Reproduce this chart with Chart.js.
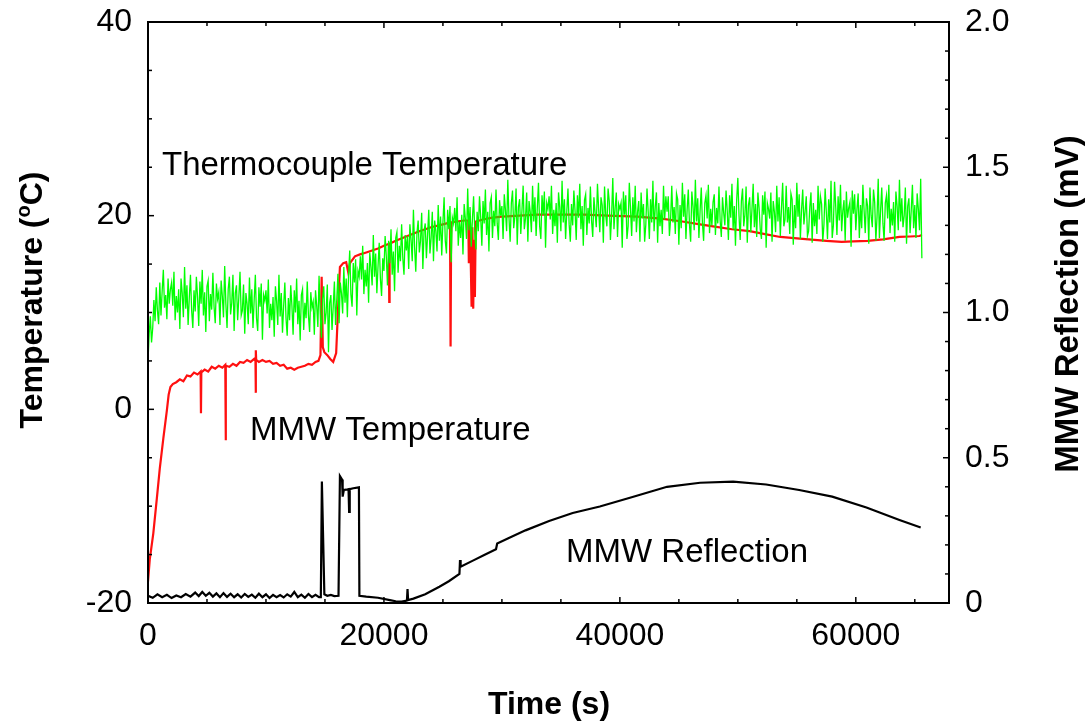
<!DOCTYPE html>
<html>
<head>
<meta charset="utf-8">
<script src="https://cdn.jsdelivr.net/npm/chart.js@4.4.1/dist/chart.umd.min.js"></script>
<style>
  html, body { margin: 0; padding: 0; background: #fff; }
  #wrap { width: 1091px; height: 723px; }
</style>
</head>
<body>
<div id="wrap"><canvas id="chart" width="1091" height="723"></canvas></div>
<script>
// Thermocouple record, one sample every TC_STEP seconds (°C), 20 samples per row
const TC_STEP = 100;
const tcTemp = [
  5.0, 7.8, 9.6, 6.9, 8.4, 11.3, 9.1, 12.6, 10.2, 8.8, 13.1, 9.7, 12.2, 14.4, 10.5, 11.8, 9.3, 13.5, 10.9, 12.4,
  13.1, 10.7, 14.2, 9.2, 11.7, 10.0, 12.4, 8.3, 13.5, 12.0, 9.5, 14.7, 10.4, 12.8, 8.7, 11.5, 13.9, 10.2, 8.4, 12.3,
  10.1, 13.7, 11.6, 8.6, 13.2, 10.9, 14.4, 9.7, 12.1, 8.0, 12.7, 13.3, 9.1, 11.9, 10.3, 14.1, 10.6, 8.9, 13.0, 11.4,
  12.1, 8.7, 13.3, 11.7, 9.5, 14.8, 10.9, 8.4, 12.4, 13.7, 9.8, 11.0, 13.9, 8.1, 12.0, 12.8, 9.2, 11.6, 14.2, 9.7,
  10.2, 12.9, 7.8, 12.0, 10.9, 8.8, 13.6, 9.9, 12.4, 8.4, 11.3, 13.9, 9.4, 8.1, 12.6, 10.6, 13.0, 7.2, 11.8, 11.2,
  12.3, 9.9, 13.4, 8.4, 10.9, 9.2, 11.6, 7.5, 12.7, 11.2, 8.7, 13.9, 9.6, 12.0, 7.9, 10.7, 13.1, 9.4, 7.6, 11.5,
  9.2, 12.8, 10.7, 7.7, 12.3, 10.0, 13.5, 8.8, 11.2, 7.1, 11.8, 12.4, 8.2, 11.0, 9.4, 13.2, 9.7, 8.0, 12.1, 10.5,
  11.1, 7.7, 12.3, 10.7, 8.5, 13.8, 9.9, 7.4, 11.4, 12.7, 8.8, 10.0, 12.9, 5.9, 11.0, 11.8, 8.2, 10.6, 13.2, 8.7,
  11.3, 14.0, 8.9, 13.1, 12.0, 9.9, 14.7, 11.0, 13.5, 9.5, 13.8, 16.4, 11.9, 10.6, 15.1, 13.1, 15.5, 9.7, 14.3, 13.7,
  15.8, 13.4, 16.9, 11.9, 14.4, 12.7, 15.1, 11.0, 16.2, 14.7, 12.8, 18.0, 13.7, 16.1, 12.0, 14.8, 17.2, 13.5, 11.7, 15.6,
  14.3, 17.9, 15.8, 12.8, 17.4, 15.1, 18.6, 13.9, 16.3, 12.2, 17.7, 18.3, 14.1, 16.9, 15.3, 19.1, 15.6, 13.9, 18.0, 16.4,
  17.9, 14.5, 19.1, 17.5, 15.3, 20.6, 16.7, 14.2, 18.2, 19.5, 16.2, 17.4, 20.3, 14.5, 18.4, 19.2, 15.6, 18.0, 20.6, 16.1,
  17.7, 20.4, 15.3, 19.5, 18.4, 16.3, 21.1, 17.4, 19.9, 15.9, 19.3, 21.9, 17.4, 16.1, 20.6, 18.6, 21.0, 15.2, 19.8, 19.2,
  20.8, 18.4, 21.9, 16.9, 19.4, 17.7, 20.1, 16.0, 21.2, 19.7, 17.6, 22.8, 18.5, 20.9, 16.8, 19.6, 22.0, 18.3, 16.5, 20.4,
  18.4, 22.0, 19.9, 16.9, 21.5, 19.2, 22.7, 18.0, 20.4, 16.3, 21.3, 21.9, 17.7, 20.5, 18.9, 22.7, 19.2, 17.5, 21.6, 20.0,
  21.0, 17.6, 22.2, 20.6, 18.4, 23.7, 19.8, 17.3, 21.3, 22.6, 18.7, 19.9, 22.8, 17.0, 20.9, 21.7, 18.1, 20.5, 23.1, 18.6,
  19.7, 22.4, 17.3, 21.5, 20.4, 18.3, 23.1, 19.4, 21.9, 17.9, 20.8, 23.4, 18.9, 17.6, 22.1, 20.1, 22.5, 16.7, 21.3, 20.7,
  22.0, 19.6, 23.1, 18.1, 20.6, 18.9, 21.3, 17.2, 22.4, 20.9, 18.4, 23.6, 19.3, 21.7, 17.6, 20.4, 22.8, 19.1, 17.3, 21.2,
  19.0, 22.6, 20.5, 17.5, 22.1, 19.8, 23.3, 18.6, 21.0, 16.9, 21.6, 22.2, 18.0, 20.8, 19.2, 23.0, 19.5, 17.8, 21.9, 20.3,
  18.8, 23.3, 20.7, 18.3, 21.9, 21.1, 17.2, 23.0, 20.1, 18.9, 22.8, 21.5, 17.5, 20.0, 23.9, 18.6, 20.8, 22.4, 17.8, 21.2,
  20.7, 21.3, 16.7, 22.5, 20.1, 22.1, 17.6, 18.9, 23.4, 20.8, 17.9, 21.9, 19.4, 23.1, 18.3, 20.4, 21.5, 17.3, 22.4, 19.7,
  21.2, 17.3, 19.1, 22.8, 20.4, 17.6, 21.7, 19.3, 23.6, 18.4, 20.9, 22.4, 17.2, 21.3, 18.9, 20.6, 18.1, 23.1, 19.6, 22.0,
  20.4, 22.0, 17.9, 19.6, 23.1, 19.3, 20.9, 18.1, 22.3, 21.7, 17.0, 21.1, 18.7, 23.4, 19.9, 22.2, 17.6, 20.6, 22.7, 19.1,
  17.3, 22.5, 21.0, 18.5, 23.7, 19.4, 21.8, 17.7, 20.5, 22.9, 19.2, 17.4, 21.3, 22.1, 19.7, 23.2, 18.2, 20.7, 19.0, 21.4,
  22.2, 18.0, 20.8, 19.2, 23.0, 19.5, 17.8, 21.9, 20.3, 19.0, 22.6, 20.5, 17.5, 22.1, 19.8, 23.3, 18.6, 21.0, 16.9, 21.6,
  23.9, 20.0, 17.5, 21.5, 22.8, 18.9, 20.1, 23.0, 17.2, 21.1, 21.9, 18.3, 20.7, 23.3, 18.8, 21.2, 17.8, 22.4, 20.8, 18.6,
  17.6, 22.1, 20.1, 22.5, 16.7, 21.3, 20.7, 19.7, 22.4, 17.3, 21.5, 20.4, 18.3, 23.1, 19.4, 21.9, 17.9, 20.8, 23.4, 18.9,
  19.6, 23.1, 19.3, 20.9, 18.1, 22.3, 21.7, 17.0, 21.1, 18.7, 23.4, 19.9, 22.2, 17.6, 20.6, 22.7, 19.1, 20.4, 22.0, 17.9,
  18.4, 20.9, 22.4, 17.2, 21.3, 18.9, 20.6, 18.1, 23.1, 19.6, 22.0, 21.2, 17.3, 19.1, 22.8, 20.4, 17.6, 21.7, 19.3, 23.6,
  17.7, 19.0, 23.5, 20.9, 18.0, 22.0, 19.5, 23.2, 18.4, 20.5, 21.6, 17.4, 22.5, 19.8, 20.8, 21.4, 16.8, 22.6, 20.2, 22.2,
  18.5, 20.7, 22.3, 17.7, 21.1, 18.7, 23.2, 20.6, 18.2, 21.8, 21.0, 17.1, 22.9, 20.0, 18.8, 22.7, 21.4, 17.4, 19.9, 23.8,
  17.7, 20.5, 22.9, 19.2, 17.4, 21.3, 22.1, 19.7, 23.2, 18.2, 20.7, 19.0, 21.4, 17.3, 22.5, 21.0, 18.5, 23.7, 19.4, 21.8,
  18.8, 20.0, 22.9, 17.1, 21.0, 21.8, 18.2, 20.6, 23.2, 18.7, 21.1, 17.7, 22.3, 20.7, 18.5, 23.8, 15.6
];
const tcTime = tcTemp.map((_, i) => i * TC_STEP);

// MMW temperature (s, °C)
const mmwTime = [
  0, 150, 450, 750, 1000, 1300, 1600, 1750, 1900, 2100,
  2400, 2700, 3000, 3300, 3600, 3900, 4200, 4460, 4490, 4520,
  4800, 5100, 5400, 5700, 6000, 6300, 6550, 6580, 6610, 6900,
  7200, 7500, 7800, 8100, 8400, 8700, 9000, 9110, 9130, 9150,
  9170, 9400, 9700, 10000, 10300, 10600, 10900, 11200, 11500, 11800,
  12100, 12400, 12700, 13000, 13300, 13600, 13900, 14200, 14450, 14620,
  14720, 14820, 14950, 15200, 15450, 15700, 15950, 16150, 16270, 16550,
  16800, 16980, 17120, 17540, 17970, 18500, 19000, 19500, 20000, 20420,
  20450, 20480, 21000, 22000, 23000, 24000, 25000, 25600, 25650, 25700,
  26200, 26800, 27150, 27200, 27300, 27430, 27500, 27570, 27640, 27710,
  27780, 28400, 29200, 30000, 31500, 33000, 35000, 37000, 39000, 41500,
  43500, 45300, 46800, 47900, 49500, 51000, 52300, 53600, 55500, 57500,
  58800, 59800, 61000, 62300, 63700, 64600, 65400, 65600
];
const mmwTemp = [
  -17.8, -15.5, -12.8, -9.2, -6.1, -3.0, -0.1, 1.5, 2.3, 2.6,
  2.8, 3.1, 2.9, 3.5, 3.4, 3.8, 3.6, 3.9, -0.4, 3.8,
  4.1, 3.9, 4.4, 4.2, 4.5, 4.3, 4.6, -3.2, 4.5, 4.4,
  4.7, 4.5, 4.9, 4.8, 5.1, 4.9, 5.2, 5.0, 1.7, 6.1,
  5.1, 4.9, 5.1, 4.9, 5.0, 4.7, 4.8, 4.5, 4.6, 4.2,
  4.3, 4.1, 4.3, 4.4, 4.5, 4.7, 4.6, 4.9, 5.0, 5.6,
  13.7, 6.4, 5.9, 5.6, 5.2, 4.9, 5.8, 11.5, 14.7, 15.1,
  15.2, 14.1, 15.1, 15.8, 16.0, 16.2, 16.4, 16.6, 16.9, 17.1,
  11.1, 17.1, 17.4, 17.9, 18.4, 18.8, 19.1, 19.3, 6.5, 19.3,
  19.4, 19.5, 19.5, 15.1, 19.3, 10.6, 18.8, 10.4, 17.5, 11.6,
  19.4, 19.6, 19.8, 19.9, 20.0, 20.1, 20.1, 20.1, 20.0, 19.9,
  19.7, 19.4, 19.1, 18.9, 18.6, 18.4, 18.1, 17.8, 17.6, 17.4,
  17.3, 17.35, 17.4, 17.55, 17.8, 17.85, 17.9, 18.0
];

// MMW reflection (s, mV)
const reflTime = [
  0, 400, 800, 1200, 1600, 2000, 2400, 2800, 3200, 3600,
  4000, 4300, 4600, 4900, 5200, 5500, 5800, 6100, 6400, 6700,
  7000, 7300, 7600, 7900, 8200, 8500, 8800, 9100, 9400, 9700,
  10000, 10300, 10600, 10900, 11200, 11500, 11800, 12100, 12400, 12700,
  13000, 13300, 13600, 13900, 14200, 14500, 14650, 14740, 14950, 15200,
  15500, 15800, 16150, 16270, 16450, 16500, 16600, 16800, 17000, 17050,
  17100, 17400, 17880, 17920, 18500, 19500, 20500, 21000, 21500, 21950,
  22000, 22050, 22500, 23500, 24700, 25500, 26400, 26450, 26500, 27500,
  28500, 29500, 29600, 30500, 32000, 34000, 36000, 38300, 41000, 44000,
  46800, 49600, 52400, 55200, 58000, 60900, 63700, 65500
];
const reflMv = [
  0.025, 0.018, 0.030, 0.020, 0.028, 0.017, 0.026, 0.020, 0.031, 0.022,
  0.036, 0.024, 0.038, 0.025, 0.035, 0.022, 0.033, 0.020, 0.034, 0.021,
  0.032, 0.020, 0.030, 0.019, 0.031, 0.021, 0.029, 0.018, 0.032, 0.020,
  0.030, 0.017, 0.028, 0.020, 0.027, 0.019, 0.030, 0.022, 0.038, 0.020,
  0.029, 0.018, 0.031, 0.020, 0.028, 0.020, 0.020, 0.418, 0.030, 0.025,
  0.028, 0.024, 0.025, 0.437, 0.425, 0.366, 0.389, 0.390, 0.392, 0.314,
  0.392, 0.395, 0.398, 0.025, 0.022, 0.018, 0.010, 0.006, 0.005, 0.008,
  0.048, 0.010, 0.015, 0.030, 0.056, 0.075, 0.100, 0.148, 0.125, 0.145,
  0.165, 0.185, 0.205, 0.222, 0.250, 0.282, 0.310, 0.332, 0.364, 0.400,
  0.414, 0.418, 0.408, 0.389, 0.366, 0.329, 0.286, 0.260
];

// tick positions and labels
const timeTicks = [0, 5000, 10000, 15000, 20000, 25000, 30000, 35000, 40000, 45000, 50000, 55000, 60000, 65000];
const timeLabels = [0, 20000, 40000, 60000];
const tempTicks = [-20, -15, -10, -5, 0, 5, 10, 15, 20, 25, 30, 35, 40];
const tempLabels = [-20, 0, 20, 40];
const reflTicks = [0, 0.1, 0.2, 0.3, 0.4, 0.5, 0.6, 0.7, 0.8, 0.9, 1.0, 1.1, 1.2, 1.3, 1.4, 1.5, 1.6, 1.7, 1.8, 1.9, 2.0];
const reflLabels = { 0: '0', 0.5: '0.5', 1: '1.0', 1.5: '1.5', 2: '2.0' };

const FONT = '"Liberation Sans", Arial, sans-serif';

const pts = (xs, ys) => xs.map((x, i) => ({ x, y: ys[i] }));
const setTicks = vals => s => { s.ticks = vals.map(value => ({ value })); };

// frame, inward tick marks, in-plot labels and axis titles
const decor = {
  id: 'decor',
  afterDraw(chart) {
    const { ctx, chartArea: a, scales } = chart;
    ctx.save();
    ctx.strokeStyle = '#000';
    ctx.lineWidth = 1.5;
    const seg = (x1, y1, x2, y2) => { ctx.beginPath(); ctx.moveTo(x1, y1); ctx.lineTo(x2, y2); ctx.stroke(); };

    scales.x.ticks.forEach(t => {
      const px = scales.x.getPixelForValue(t.value);
      const len = timeLabels.includes(t.value) ? 6 : 4;
      seg(px, a.bottom, px, a.bottom - len);
      seg(px, a.top, px, a.top + len);
    });
    scales.y.ticks.forEach(t => {
      const py = scales.y.getPixelForValue(t.value);
      const len = tempLabels.includes(t.value) ? 6 : 4;
      seg(a.left, py, a.left + len, py);
    });
    scales.y1.ticks.forEach(t => {
      const py = scales.y1.getPixelForValue(t.value);
      const len = reflLabels[t.value] !== undefined ? 6 : 4;
      seg(a.right, py, a.right - len, py);
    });

    ctx.lineWidth = 2;
    ctx.strokeRect(a.left, a.top, a.right - a.left, a.bottom - a.top);

    ctx.fillStyle = '#000';
    ctx.textBaseline = 'alphabetic';
    ctx.textAlign = 'left';
    ctx.font = '33px ' + FONT;
    ctx.fillText('Thermocouple Temperature', 162, 175);
    ctx.fillText('MMW Temperature', 250, 440);
    ctx.fillText('MMW Reflection', 566, 562);

    // x title
    ctx.font = 'bold 32px ' + FONT;
    ctx.textAlign = 'center';
    ctx.fillText('Time (s)', 549, 714);

    // left title with superscript o
    ctx.save();
    ctx.translate(42, 300);
    ctx.rotate(-Math.PI / 2);
    ctx.textAlign = 'left';
    const big = 'bold 32px ' + FONT, small = 'bold 20px ' + FONT;
    ctx.font = big; const w1 = ctx.measureText('Temperature (').width;
    ctx.font = small; const w2 = ctx.measureText('o').width;
    ctx.font = big; const w3 = ctx.measureText('C)').width;
    const x0 = -(w1 + w2 + w3) / 2;
    ctx.fillText('Temperature (', x0, 0);
    ctx.font = small; ctx.fillText('o', x0 + w1, -12);
    ctx.font = big; ctx.fillText('C)', x0 + w1 + w2, 0);
    ctx.restore();

    // right title
    ctx.save();
    ctx.translate(1078, 304);
    ctx.rotate(-Math.PI / 2);
    ctx.textAlign = 'center';
    ctx.font = 'bold 33px ' + FONT;
    ctx.fillText('MMW Reflection (mV)', 0, 0);
    ctx.restore();

    ctx.restore();
  }
};

const tickFont = { family: FONT, size: 32 };

new Chart(document.getElementById('chart'), {
  type: 'line',
  data: {
    datasets: [
      { label: 'Thermocouple Temperature', data: pts(tcTime, tcTemp), borderColor: '#00ff00', borderWidth: 1.3, yAxisID: 'y' },
      { label: 'MMW Temperature', data: pts(mmwTime, mmwTemp), borderColor: '#ff1010', borderWidth: 2.2, yAxisID: 'y' },
      { label: 'MMW Reflection', data: pts(reflTime, reflMv), borderColor: '#000000', borderWidth: 2.2, yAxisID: 'y1' },
    ],
  },
  options: {
    responsive: false,
    devicePixelRatio: 1,
    animation: false,
    layout: { padding: { top: 22, left: 0, right: 0, bottom: 0 } },
    elements: { point: { radius: 0 }, line: { tension: 0, fill: false } },
    plugins: { legend: { display: false }, tooltip: { enabled: false } },
    scales: {
      x: {
        type: 'linear', position: 'bottom', min: 0, max: 67900,
        grid: { display: false, drawTicks: false },
        border: { display: false },
        afterBuildTicks: setTicks(timeTicks),
        afterFit(s) { s.height = 120; s.paddingLeft = 0; s.paddingRight = 0; },
        ticks: {
          autoSkip: false, maxRotation: 0, minRotation: 0, padding: 14, color: '#000', font: tickFont,
          callback: v => timeLabels.includes(v) ? String(v) : '',
        },
      },
      y: {
        type: 'linear', position: 'left', min: -20, max: 40,
        grid: { display: false, drawTicks: false },
        border: { display: false },
        afterBuildTicks: setTicks(tempTicks),
        afterFit(s) { s.width = 148; s.paddingTop = 0; s.paddingBottom = 0; },
        ticks: {
          autoSkip: false, padding: 16, color: '#000', font: tickFont,
          callback: v => tempLabels.includes(v) ? String(v) : '',
        },
      },
      y1: {
        type: 'linear', position: 'right', min: 0, max: 2,
        grid: { display: false, drawTicks: false },
        border: { display: false },
        afterBuildTicks: setTicks(reflTicks),
        afterFit(s) { s.width = 142; s.paddingTop = 0; s.paddingBottom = 0; },
        ticks: {
          autoSkip: false, padding: 16, color: '#000', font: tickFont,
          callback: v => reflLabels[v] !== undefined ? reflLabels[v] : '',
        },
      },
    },
  },
  plugins: [decor],
});
</script>
</body>
</html>
